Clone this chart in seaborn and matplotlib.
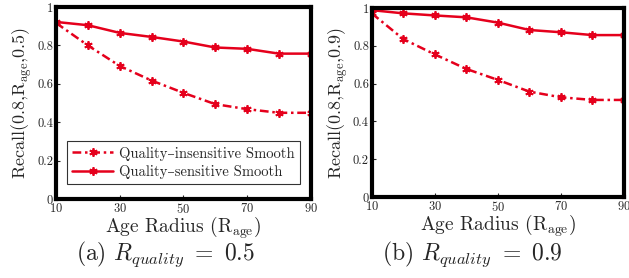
import numpy as np
import pandas as pd
import matplotlib; matplotlib.use("Agg")
import matplotlib.pyplot as plt
import seaborn as sns

RADIUS = [10, 20, 30, 40, 50, 60, 70, 80, 90]

# panel (a): R_quality = 0.5
A_INSENS = [0.917, 0.800, 0.693, 0.617, 0.553, 0.494, 0.468, 0.449, 0.449]
A_SENS   = [0.922, 0.905, 0.865, 0.844, 0.820, 0.789, 0.782, 0.757, 0.757]
# panel (b): R_quality = 0.9
B_INSENS = [0.972, 0.836, 0.755, 0.678, 0.620, 0.558, 0.528, 0.514, 0.514]
B_SENS   = [0.989, 0.972, 0.961, 0.951, 0.923, 0.884, 0.872, 0.857, 0.857]

SERIES   = ["Quality\u2013insensitive Smooth", "Quality\u2013sensitive Smooth"]
XTICKS   = [10, 30, 50, 70, 90]
YTICKS   = [0, 0.2, 0.4, 0.6, 0.8, 1.0]
YTICKLAB = ["0", "0.2", "0.4", "0.6", "0.8", "1"]
YLABELS  = ["Recall(0.8,R$_{\\mathrm{age}}$,0.5)", "Recall(0.8,R$_{\\mathrm{age}}$,0.9)"]
CAPTIONS = ["(a) $R_{quality}\\ =\\ 0.5$", "(b) $R_{quality}\\ =\\ 0.9$"]

RED = "#e5001c"
ASTERISK = (6, 2, 0)

sns.set_style("ticks")
plt.rcParams["font.family"] = ["cmr10", "DejaVu Serif"]
plt.rcParams["mathtext.fontset"] = "cm"
plt.rcParams["axes.unicode_minus"] = False
plt.rcParams["axes.formatter.use_mathtext"] = True


def frame(ins, sens):
    return pd.DataFrame({
        "radius": RADIUS * 2,
        "recall": ins + sens,
        "method": [SERIES[0]] * len(RADIUS) + [SERIES[1]] * len(RADIUS),
    })


fig = plt.figure(figsize=(6.29, 2.78), dpi=100)
ax_a = fig.add_axes([0.089, 0.284, 0.405, 0.691])
ax_b = fig.add_axes([0.591, 0.291, 0.401, 0.680])

for ax, (ins, sens), ylab in zip(
        [ax_a, ax_b], [(A_INSENS, A_SENS), (B_INSENS, B_SENS)], YLABELS):
    df = frame(ins, sens)
    sns.lineplot(data=df, x="radius", y="recall", style="method",
                 dashes={SERIES[0]: (3.5, 1.5, 1, 1.5), SERIES[1]: ""},
                 markers={SERIES[0]: ASTERISK, SERIES[1]: ASTERISK},
                 color=RED, lw=1.8, markersize=6, markeredgewidth=1.3,
                 markeredgecolor=RED, ax=ax, legend=(ax is ax_a))
    ax.set_xlim(10, 90)
    ax.set_ylim(0, 1)
    ax.set_xticks(XTICKS)
    ax.set_yticks(YTICKS)
    ax.set_yticklabels(YTICKLAB)
    ax.tick_params(direction="in", length=3, width=0.8, labelsize=9, pad=2)
    for s in ax.spines.values():
        s.set_visible(True)
        s.set_linewidth(3)
        s.set_color("black")
    ax.set_xlabel("Age Radius (R$_{\\mathrm{age}}$)", fontsize=14, labelpad=-1)
    ax.set_ylabel(ylab, fontsize=13, labelpad=2)

fig.text(165 / 629, 1 - 254 / 278, CAPTIONS[0], ha="center", va="center", fontsize=17)
fig.text(472 / 629, 1 - 254 / 278, CAPTIONS[1], ha="center", va="center", fontsize=17)

leg = ax_a.legend(loc="lower center", bbox_to_anchor=(0.5, 0.04),
                  fontsize=10.5, frameon=True, fancybox=False,
                  handlelength=2.8, borderpad=0.35, labelspacing=0.3,
                  handletextpad=0.4)
leg.get_frame().set_edgecolor("black")
leg.get_frame().set_linewidth(0.8)

fig.savefig("out.png", dpi=100)
